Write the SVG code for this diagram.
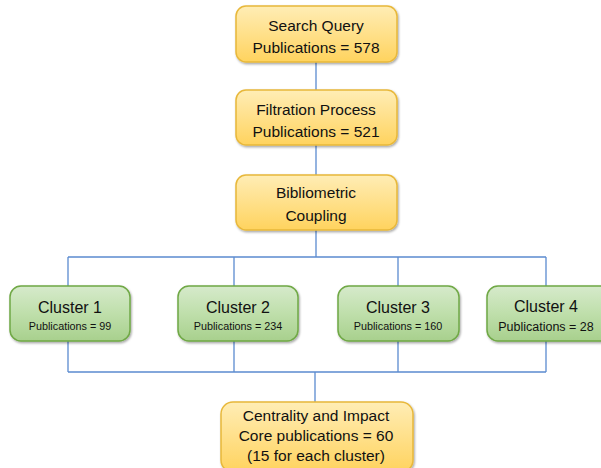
<svg xmlns="http://www.w3.org/2000/svg" width="601" height="468" viewBox="0 0 601 468">
<defs>
<linearGradient id="gy" x1="0" y1="0" x2="0" y2="1">
<stop offset="0" stop-color="#FFEDB5"/>
<stop offset="0.5" stop-color="#FFE08A"/>
<stop offset="1" stop-color="#FFD35E"/>
</linearGradient>
<linearGradient id="gg" x1="0" y1="0" x2="0" y2="1">
<stop offset="0" stop-color="#D6EACB"/>
<stop offset="0.5" stop-color="#BFDFAB"/>
<stop offset="1" stop-color="#A8D08D"/>
</linearGradient>
<filter id="sh" x="-10%" y="-10%" width="120%" height="130%">
<feDropShadow dx="1" dy="1.5" stdDeviation="1.2" flood-color="#000" flood-opacity="0.35"/>
</filter>
</defs>
<style>
.y{fill:url(#gy);stroke:#E8B83A;stroke-width:1.5;filter:url(#sh)}
.g{fill:url(#gg);stroke:#6FA845;stroke-width:1.5;filter:url(#sh)}
.t{font-family:"Liberation Sans",Arial,sans-serif;font-size:15.5px;fill:#111;text-anchor:middle}
.c{font-family:"Liberation Sans",Arial,sans-serif;font-size:16px;fill:#111;text-anchor:middle}
.s{font-family:"Liberation Sans",Arial,sans-serif;font-size:10.8px;fill:#111;text-anchor:middle}
.l{stroke:#5B8BD0;stroke-width:1.3;fill:none}
</style>
<g id="connectors">
<path class="l" d="M316,62 V90 M316,145 V175 M316,230 V257 M68,257 H546 M68,257 V286 M234,257 V286 M398,257 V286 M546,257 V286 M68,341 V372 M234,341 V372 M398,341 V372 M546,341 V372 M68,372 H546 M315,372 V402"/>
</g>
<g id="search">
<rect class="y" x="236" y="6" width="161" height="56" rx="10"/>
<text class="t" x="316" y="31">Search Query</text>
<text class="t" x="316" y="53">Publications = 578</text>
</g>
<g id="filtration">
<rect class="y" x="236" y="90" width="161" height="55" rx="10"/>
<text class="t" x="316" y="115">Filtration Process</text>
<text class="t" x="316" y="137">Publications = 521</text>
</g>
<g id="bibliometric">
<rect class="y" x="236" y="175" width="161" height="55" rx="10"/>
<text class="t" x="316" y="198">Bibliometric</text>
<text class="t" x="316" y="221">Coupling</text>
</g>
<g id="cluster1">
<rect class="g" x="10" y="286" width="120" height="55" rx="11"/>
<text class="c" x="70" y="313">Cluster 1</text>
<text class="s" x="70" y="330">Publications = 99</text>
</g>
<g id="cluster2">
<rect class="g" x="178" y="286" width="120" height="55" rx="11"/>
<text class="c" x="238" y="313">Cluster 2</text>
<text class="s" x="238" y="330">Publications = 234</text>
</g>
<g id="cluster3">
<rect class="g" x="338" y="286" width="121" height="55" rx="11"/>
<text class="c" x="398" y="313">Cluster 3</text>
<text class="s" x="398" y="330">Publications = 160</text>
</g>
<g id="cluster4">
<rect class="g" x="487" y="286" width="125" height="55" rx="11"/>
<text class="c" x="546" y="312">Cluster 4</text>
<text class="s" x="546" y="331" style="font-size:12.5px">Publications = 28</text>
</g>
<g id="centrality">
<rect class="y" x="221" y="402" width="192" height="70" rx="12"/>
<text class="t" x="316" y="421">Centrality and Impact</text>
<text class="t" x="316" y="441">Core publications = 60</text>
<text class="t" x="316" y="461">(15 for each cluster)</text>
</g>
</svg>
